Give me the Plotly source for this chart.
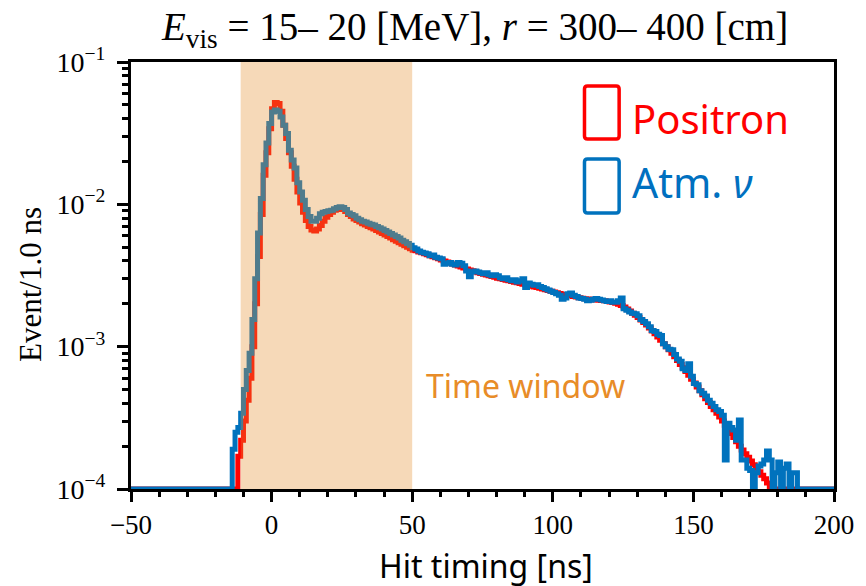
import numpy as np
import plotly.graph_objects as go

# Histogram binning: 1 ns bins from -50 ns to 200 ns
FIRST_EDGE, LAST_EDGE = -50, 200
Y_FLOOR = 1e-4  # empty bins are drawn along the bottom of the log axis

# Positron hit-timing distribution (Event / 1.0 ns), bins starting at -12 ns
positron_start = -12
positron_rise = [1.7e-4, 2.2e-4, 3.0e-4, 4.2e-4, 6.0e-4, 1.0e-3, 2.0e-3, 4.3e-3, 8.5e-3, 1.6e-2, 2.3e-2, 3.4e-2]
positron_peak = [4.7e-2, 5.2e-2, 5.1e-2, 4.5e-2, 3.6e-2, 2.9e-2, 2.3e-2, 1.85e-2, 1.5e-2, 1.22e-2,
                 1.02e-2, 8.8e-3, 7.7e-3, 7.0e-3, 6.6e-3, 6.5e-3, 6.7e-3, 7.1e-3, 7.6e-3, 8.1e-3,
                 8.5e-3, 8.8e-3, 9.1e-3, 9.2e-3, 9.3e-3, 9.2e-3, 8.9e-3, 8.5e-3, 8.2e-3, 7.9e-3,
                 7.7e-3, 7.5e-3, 7.3e-3, 7.15e-3, 7.0e-3, 6.85e-3, 6.7e-3, 6.55e-3, 6.4e-3, 6.25e-3,
                 6.1e-3, 5.95e-3, 5.8e-3, 5.65e-3, 5.5e-3, 5.38e-3, 5.25e-3, 5.12e-3, 5.0e-3, 4.88e-3,
                 4.76e-3]
positron_tail = [4.72e-3, 4.63e-3, 4.56e-3, 4.49e-3, 4.42e-3, 4.35e-3, 4.28e-3, 4.21e-3, 4.14e-3, 4.07e-3,
                 4.0e-3, 3.93e-3, 3.87e-3, 3.81e-3, 3.75e-3, 3.69e-3, 3.63e-3, 3.57e-3, 3.51e-3, 3.46e-3,
                 3.41e-3, 3.36e-3, 3.31e-3, 3.27e-3, 3.23e-3, 3.19e-3, 3.15e-3, 3.11e-3, 3.07e-3, 3.03e-3,
                 3.0e-3, 2.97e-3, 2.93e-3, 2.9e-3, 2.87e-3, 2.84e-3, 2.81e-3, 2.78e-3, 2.75e-3, 2.72e-3,
                 2.69e-3, 2.66e-3, 2.63e-3, 2.6e-3, 2.57e-3, 2.54e-3, 2.51e-3, 2.48e-3, 2.45e-3, 2.42e-3,
                 2.39e-3, 2.36e-3, 2.33e-3, 2.31e-3, 2.29e-3, 2.27e-3, 2.25e-3, 2.23e-3, 2.21e-3, 2.19e-3,
                 2.17e-3, 2.16e-3, 2.15e-3, 2.14e-3, 2.13e-3, 2.12e-3, 2.11e-3, 2.1e-3, 2.08e-3, 2.06e-3,
                 2.04e-3, 2.02e-3, 1.99e-3, 1.95e-3, 1.9e-3, 1.84e-3, 1.78e-3, 1.72e-3, 1.66e-3, 1.6e-3,
                 1.54e-3, 1.48e-3, 1.42e-3, 1.35e-3, 1.29e-3, 1.23e-3, 1.17e-3, 1.11e-3, 1.05e-3, 1.0e-3,
                 9.5e-4, 9.0e-4, 8.5e-4, 8.0e-4, 7.5e-4, 7.1e-4, 6.7e-4, 6.3e-4, 5.9e-4, 5.55e-4,
                 5.2e-4, 4.9e-4, 4.6e-4, 4.3e-4, 4.05e-4, 3.8e-4, 3.6e-4, 3.4e-4, 3.2e-4, 3.0e-4,
                 2.8e-4, 2.6e-4, 2.45e-4, 2.3e-4, 2.15e-4, 2.0e-4, 1.88e-4, 1.77e-4, 1.67e-4, 1.57e-4,
                 1.48e-4, 1.4e-4, 1.32e-4, 1.25e-4, 1.18e-4, 1.1e-4, 0.0]

# Atmospheric neutrino hit-timing distribution, bins starting at -14 ns
atm_start = -14
atm_rise = [1.9e-4, 2.5e-4, 2.7e-4, 3.4e-4, 5.0e-4, 6.8e-4, 9.0e-4, 1.55e-3, 3.0e-3, 6.3e-3,
            1.1e-2, 1.9e-2, 2.7e-2, 3.7e-2]
atm_peak = [4.45e-2, 4.6e-2, 4.5e-2, 4.1e-2, 3.6e-2, 3.15e-2, 2.4e-2, 2.05e-2, 1.8e-2, 1.42e-2,
            1.22e-2, 1.07e-2, 9.2e-3, 8.2e-3, 7.6e-3, 7.6e-3, 8.0e-3, 8.6e-3, 8.8e-3, 8.9e-3,
            9.0e-3, 9.1e-3, 9.3e-3, 9.5e-3, 9.6e-3, 9.5e-3, 9.2e-3, 8.7e-3, 8.5e-3, 8.3e-3,
            8.0e-3, 7.8e-3, 7.6e-3, 7.5e-3, 7.35e-3, 7.25e-3, 7.15e-3, 7.0e-3, 6.85e-3, 6.7e-3,
            6.55e-3, 6.4e-3, 6.25e-3, 6.1e-3, 5.95e-3, 5.8e-3, 5.6e-3, 5.45e-3, 5.3e-3, 5.15e-3,
            4.95e-3, 4.85e-3]
atm_plateau = [4.7e-3, 4.6e-3, 4.55e-3, 4.5e-3, 4.35e-3, 4.4e-3, 4.25e-3, 4.2e-3, 4.15e-3, 3.8e-3,
               3.85e-3, 3.9e-3, 3.8e-3, 3.75e-3, 3.9e-3, 3.85e-3, 3.7e-3, 3.4e-3, 3.1e-3, 3.35e-3,
               3.4e-3, 3.35e-3, 3.3e-3, 3.25e-3, 3.3e-3, 3.2e-3, 3.15e-3, 3.2e-3, 3.15e-3, 3.05e-3,
               3.0e-3, 3.05e-3, 2.95e-3, 2.9e-3, 2.95e-3, 2.85e-3, 2.9e-3, 3.0e-3, 2.6e-3, 2.8e-3,
               2.75e-3, 2.7e-3, 2.72e-3, 2.65e-3, 2.6e-3, 2.55e-3, 2.5e-3, 2.45e-3, 2.4e-3, 2.35e-3,
               2.3e-3, 2.15e-3, 2.2e-3, 2.35e-3, 2.38e-3, 2.3e-3, 2.25e-3, 2.2e-3, 2.18e-3, 2.15e-3,
               2.1e-3, 2.12e-3, 2.15e-3, 2.18e-3, 2.15e-3, 2.13e-3, 2.1e-3, 2.08e-3, 2.1e-3, 2.05e-3,
               2.05e-3, 2.1e-3, 2.2e-3, 1.85e-3, 1.8e-3]
atm_tail = [1.75e-3, 1.72e-3, 1.7e-3, 1.65e-3, 1.55e-3, 1.5e-3, 1.45e-3, 1.38e-3, 1.3e-3, 1.28e-3,
            1.22e-3, 1.2e-3, 1.05e-3, 1.0e-3, 9.6e-4, 9.5e-4, 8.8e-4, 8.2e-4, 7.9e-4, 7.0e-4,
            6.8e-4, 7.6e-4, 6.2e-4, 5.5e-4, 5.4e-4, 4.9e-4, 4.7e-4, 4.5e-4, 4.2e-4, 4.0e-4,
            3.8e-4, 3.6e-4, 3.5e-4, 3.3e-4, 1.6e-4, 2.9e-4, 2.7e-4, 2.6e-4, 2.2e-4, 3.05e-4,
            1.6e-4, 1.6e-4, 1.4e-4, 1.35e-4, 0.0, 1.3e-4, 1.45e-4, 1.5e-4, 1.6e-4, 1.85e-4,
            1.6e-4, 0.0, 1.3e-4, 1.55e-4, 0.0, 1.4e-4, 1.5e-4, 0.0, 1.3e-4, 1.3e-4,
            0.0]

# Selection time window [ns]
window_start, window_end = -11, 50

x_tick_vals = [-50, 0, 50, 100, 150, 200]
y_tick_vals = [1e-4, 1e-3, 1e-2, 1e-1]
y_tick_text = ["10<sup>−4</sup>", "10<sup>−3</sup>", "10<sup>−2</sup>", "10<sup>−1</sup>"]

RED = "#FF0000"
BLUE = "#0072BD"
BLUE_TEXT = "#0070C0"
ORANGE_TEXT = "#E88C28"

W, H = 866, 586
PL, PR, PT, PB = 131, 841, 62, 489  # plot area in pixels


def histogram(start, *segments):
    counts = np.zeros(LAST_EDGE - FIRST_EDGE)
    vals = np.concatenate(segments)
    i0 = start - FIRST_EDGE
    counts[i0:i0 + len(vals)] = vals
    return counts


def px(x):
    return (x - PL) / (PR - PL)


def py(y):
    return (PB - y) / (PB - PT)


def rounded_rect(x0, y0, x1, y1, r=3):
    a, b, c, d = px(x0), px(x1), py(y0), py(y1)
    rx, ry = r / (PR - PL), r / (PB - PT)
    return (f"M{a + rx},{c} L{b - rx},{c} Q{b},{c} {b},{c - ry} "
            f"L{b},{d + ry} Q{b},{d} {b - rx},{d} L{a + rx},{d} "
            f"Q{a},{d} {a},{d + ry} L{a},{c - ry} Q{a},{c} {a + rx},{c} Z")


edges = np.arange(FIRST_EDGE, LAST_EDGE + 1)
positron = histogram(positron_start, positron_rise, positron_peak, positron_tail)
atm = histogram(atm_start, atm_rise, atm_peak, atm_plateau, atm_tail)


def step_y(counts):
    y = np.append(counts, counts[-1])
    return np.where(y > 0, y, Y_FLOOR)


fig = go.Figure()
fig.add_trace(go.Scatter(x=edges, y=step_y(positron), mode="lines",
                         line=dict(shape="hv", width=5, color=RED), name="Positron"))
fig.add_trace(go.Scatter(x=edges, y=step_y(atm), mode="lines",
                         line=dict(shape="hv", width=5, color=BLUE), name="Atm. ν"))

# time window band, translucent over the histograms
fig.add_shape(type="rect", xref="x", yref="paper", x0=window_start, x1=window_end, y0=0, y1=1,
              fillcolor="rgb(229,145,49)", opacity=0.345, line=dict(width=0), layer="above")

# legend boxes
fig.add_shape(type="path", xref="paper", yref="paper", path=rounded_rect(589, 86, 624, 139),
              line=dict(color=RED, width=3.5))
fig.add_shape(type="path", xref="paper", yref="paper", path=rounded_rect(589, 159, 624, 213),
              line=dict(color=BLUE, width=3.5))

tick_font = dict(family="Liberation Serif", size=27, color="black")
axis_common = dict(showline=True, linewidth=3, linecolor="black", mirror=True,
                   ticks="outside", tickwidth=3, tickcolor="black", showgrid=False,
                   zeroline=False, tickfont=tick_font)

minor_y = [k * 10.0 ** n for n in (-4, -3, -2) for k in range(2, 10)]

fig.update_layout(
    width=W, height=H,
    margin=dict(l=PL, r=W - PR, t=PT, b=H - PB),
    paper_bgcolor="white", plot_bgcolor="white",
    showlegend=False,
    xaxis=dict(range=[FIRST_EDGE, LAST_EDGE], tickmode="array", tickvals=x_tick_vals,
               ticklen=10,
               minor=dict(dtick=10, tick0=0, ticks="outside", ticklen=5, tickwidth=2.5,
                          tickcolor="black", showgrid=False),
               **axis_common),
    yaxis=dict(type="log", range=[-4, -1], tickmode="array", tickvals=y_tick_vals,
               ticktext=y_tick_text, ticklen=11, ticklabelstandoff=6,
               minor=dict(tickmode="array", tickvals=minor_y, ticks="outside", ticklen=6,
                          tickwidth=2.5, tickcolor="black", showgrid=False),
               **axis_common),
)
fig.update_yaxes(tickfont_size=28)

annotations = [
    dict(text="<i>E</i><sub>vis</sub> = 15– 20 [MeV], <i>r</i> = 300– 400 [cm]",
         x=px(478), y=py(30), font=dict(family="Liberation Serif", size=39, color="black")),
    dict(text="Hit timing [ns]", x=px(490), y=py(565),
         font=dict(family="Noto Sans", size=32, color="black")),
    dict(text="Event/1.0 ns", x=px(29), y=py(285), textangle=-90,
         font=dict(family="Liberation Serif", size=31, color="black")),
    dict(text="Time window", x=px(529), y=py(385),
         font=dict(family="Noto Sans", size=32, color=ORANGE_TEXT)),
    dict(text="Positron", x=px(635), y=py(118), xanchor="left",
         font=dict(family="Noto Sans", size=40, color=RED)),
    dict(text="Atm. <i>ν</i>", x=px(635), y=py(182), xanchor="left",
         font=dict(family="Noto Sans", size=41, color=BLUE_TEXT)),
]
for a in annotations:
    a.setdefault("xanchor", "center")
    fig.add_annotation(xref="paper", yref="paper", yanchor="middle", showarrow=False, **a)

fig.write_html("out.html")
